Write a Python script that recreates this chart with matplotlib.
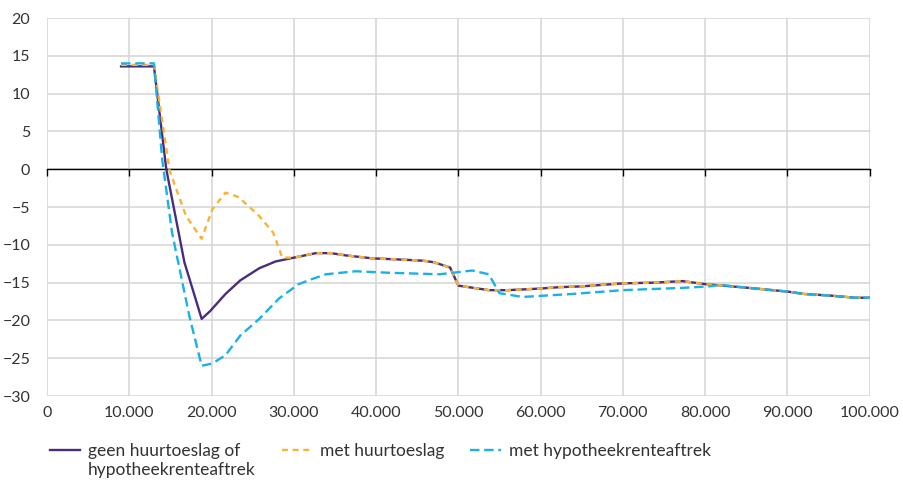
import numpy as np
import matplotlib
matplotlib.use("Agg")
import matplotlib.pyplot as plt
from matplotlib.lines import Line2D
from matplotlib.ticker import FuncFormatter, FixedLocator

plt.rcParams['font.family'] = ['Lato', 'DejaVu Sans']

# inkomen (euro)
x_geen = [9000, 13000, 14500, 16700, 18800, 19800, 21700, 23500, 25800, 27800,
          30000, 32700, 34500, 36300, 39600, 42000, 45700, 47000, 49000, 50000,
          53700, 56000, 59800, 62300, 65000, 70000, 74000, 77200, 80000, 85300,
          90100, 92000, 95000, 98200, 100000]
y_geen = [13.6, 13.6, 0.0, -12.3, -19.8, -18.8, -16.5, -14.7, -13.1, -12.2,
          -11.7, -11.1, -11.1, -11.4, -11.8, -11.9, -12.1, -12.3, -13.0, -15.4,
          -16.0, -16.0, -15.8, -15.6, -15.5, -15.1, -15.0, -14.8, -15.2, -15.7,
          -16.2, -16.5, -16.7, -17.0, -17.0]

x_huur = [9000, 13000, 14900, 16900, 18800, 20100, 21700, 23300, 25800, 27500,
          28600, 30000, 32700, 34500, 36300, 39600, 42000, 45700, 47000, 49000,
          50000, 53700, 56000, 59800, 62300, 65000, 70000, 74000, 77200, 80000,
          85300, 90100, 92000, 95000, 98200, 100000]
y_huur = [13.8, 13.8, -0.2, -6.2, -9.2, -5.3, -3.1, -3.7, -6.2, -8.4,
          -11.7, -11.7, -11.1, -11.1, -11.4, -11.8, -11.9, -12.1, -12.3, -13.0,
          -15.4, -16.0, -16.0, -15.8, -15.6, -15.5, -15.1, -15.0, -14.8, -15.2,
          -15.7, -16.2, -16.5, -16.7, -17.0, -17.0]

x_hypo = [9000, 13000, 14000, 15200, 17300, 18800, 20100, 21700, 23500, 25800,
          28200, 30600, 32300, 33900, 37500, 41600, 47700, 51700, 53700, 55000,
          57800, 63900, 70000, 77200, 80500, 81700, 85300, 90100, 92000, 95000,
          98200, 100000]
y_hypo = [14.0, 14.0, 1.3, -8.4, -19.4, -26.0, -25.7, -24.6, -22.0, -19.8,
          -17.1, -15.2, -14.5, -13.9, -13.5, -13.7, -13.9, -13.4, -13.9, -16.4,
          -16.9, -16.5, -16.0, -15.7, -15.5, -15.3, -15.7, -16.2, -16.5, -16.7,
          -17.0, -17.0]

x_ticks = list(range(0, 100001, 10000))
y_ticks = list(range(-30, 21, 5))

# first label is split over two legend rows (second row has no line)
labels = ["geen huurtoeslag of", "hypotheekrenteaftrek", "met huurtoeslag",
          "met hypotheekrenteaftrek"]

purple = "#4a2c7c"
orange = "#f9b233"
cyan = "#19b1e6"
txt = "#333333"

fig = plt.figure(figsize=(9.04, 4.8), dpi=100)
ax = fig.add_axes([0.052, 0.175, 0.910, 0.7875])

l1, = ax.plot(x_geen, y_geen, color=purple, lw=1.7, zorder=3)
l2, = ax.plot(x_huur, y_huur, color=orange, lw=1.7, dashes=(2.5, 2.0), zorder=4)
l3, = ax.plot(x_hypo, y_hypo, color=cyan, lw=1.7, dashes=(4.0, 2.0), zorder=5)
blank = Line2D([], [], color='none')

ax.set_xlim(0, 100000)
ax.set_ylim(-30, 20)
ax.set_xticks(x_ticks)
ax.set_yticks(y_ticks)
ax.grid(True, color="#d4d4d4", lw=1.1, zorder=0)
for s in ['left', 'right', 'top']:
    ax.spines[s].set_visible(False)

# zero line with ticks, labels at the bottom
ax.spines['bottom'].set_position(('data', 0))
ax.spines['bottom'].set_color("black")
ax.spines['bottom'].set_linewidth(1.0)
ax.spines['bottom'].set_zorder(2)
ax.tick_params(axis='x', direction='out', length=5, width=1.0, color='black',
               labelbottom=False)
ax.tick_params(axis='y', length=0, pad=12, labelsize=11.5, labelcolor=txt)

sec = ax.secondary_xaxis('bottom')
sec.xaxis.set_major_locator(FixedLocator(x_ticks))
sec.xaxis.set_major_formatter(FuncFormatter(lambda v, p: f"{int(v):,}".replace(",", ".")))
sec.spines['bottom'].set_visible(False)
sec.tick_params(length=0, pad=7, labelsize=11.5, labelcolor=txt)

leg = ax.legend([l1, blank, l2, l3], labels, loc='upper left',
                bbox_to_anchor=(-0.005, -0.105), ncol=3, frameon=False,
                fontsize=12.5, handlelength=1.75, handletextpad=0.45,
                columnspacing=1.5, labelspacing=0.2, labelcolor=txt,
                borderaxespad=0)

fig.savefig("out.png", dpi=100)
